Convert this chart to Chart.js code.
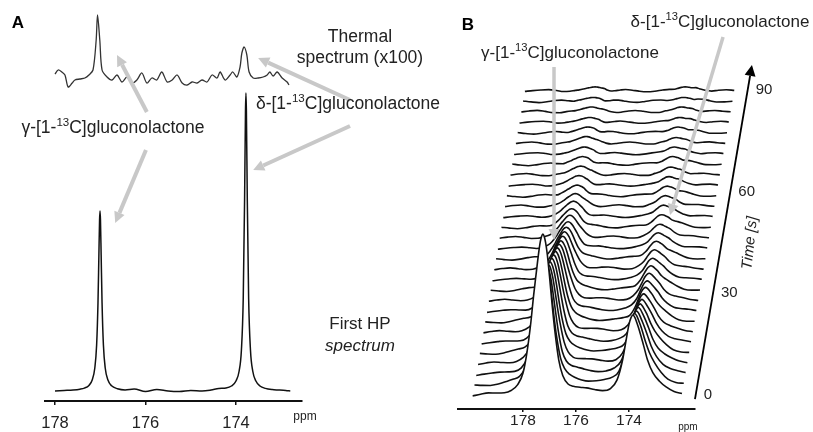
<!DOCTYPE html>
<html lang="en">
<head>
<meta charset="utf-8">
<title>Hyperpolarized gluconolactone spectra</title>
<script src="https://cdn.jsdelivr.net/npm/chart.js@4.4.1/dist/chart.umd.min.js"></script>
<style>
  body { margin: 0; background: #fff; }
  #wrap { position: relative; width: 813px; height: 432px; }
  #chartA { position: absolute; left: 0; top: 0; }
  #chartB { position: absolute; left: 440px; top: 0; }
</style>
</head>
<body>
<div id="wrap">
  <canvas id="chartA" width="440" height="432"></canvas>
  <canvas id="chartB" width="373" height="432"></canvas>
</div>
<script>
// ---- panel A: first HP spectrum and thermal spectrum (x100) ----
const hpPpm = [178.00, 177.80, 177.60, 177.45, 177.35, 177.25, 177.18, 177.12, 177.08, 177.05, 177.03, 177.015,
  177.005, 176.995, 176.98, 176.96, 176.93, 176.89, 176.83, 176.75, 176.62, 176.45, 176.25, 176.0, 175.75, 175.5,
  175.25, 175.0, 174.75, 174.55, 174.38, 174.22, 174.1, 174.0, 173.93, 173.88, 173.84, 173.81, 173.79, 173.78,
  173.77, 173.75, 173.72, 173.68, 173.63, 173.56, 173.47, 173.35, 173.2, 173.05, 172.9, 172.8];
const hpVal = [10, 10.5, 11, 11.8, 12.9, 15.6, 20.7, 33, 56, 98, 146, 181,
  190, 181, 146, 98, 56, 33, 21, 15.2, 12.3, 11.1, 12, 9.5, 11.5, 10,
  9.5, 10.5, 10, 11, 12.5, 13, 15, 20, 30, 51, 102, 201, 290, 308,
  290, 201, 102, 51, 30, 20, 15, 12.6, 11.4, 11, 10.5, 10];

const thermalPpm = [178.00, 177.93, 177.85, 177.78, 177.71, 177.62, 177.56, 177.45, 177.34, 177.25, 177.16, 177.09,
  177.06, 177.01, 176.96, 176.85, 176.74, 176.63, 176.52, 176.41, 176.30, 176.19, 176.08, 175.97, 175.86, 175.75,
  175.64, 175.52, 175.41, 175.30, 175.19, 175.08, 174.97, 174.86, 174.75, 174.64, 174.53, 174.42, 174.35, 174.24,
  174.13, 174.07, 173.98, 173.91, 173.87, 173.82, 173.76, 173.71, 173.62, 173.51, 173.40, 173.31, 173.25, 173.18,
  173.09, 172.98, 172.87, 172.83];
const thermalVal = [327, 331, 329, 326, 314, 318, 321, 322, 323, 326, 331, 361,
  386, 361, 331, 324, 321, 326, 319, 324, 318, 321, 328, 318, 323, 321,
  329, 319, 321, 326, 318, 316, 319, 318, 321, 319, 326, 323, 329, 321,
  326, 329, 324, 334, 348, 354, 346, 329, 323, 323, 324, 326, 329, 325,
  329, 323, 319, 316];

const ticksA = [178, 176, 174];

// ---- panel B: time series of HP spectra ----
const gridPpm = [179.9, 179.6, 179.3, 179.0, 178.7, 178.45, 178.2, 178.0, 177.85, 177.7, 177.6, 177.5, 177.42,
  177.35, 177.3, 177.25, 177.2, 177.15, 177.08, 177.0, 176.9, 176.8, 176.65, 176.5, 176.3, 176.1, 175.85, 175.6,
  175.3, 175.0, 174.7, 174.45, 174.25, 174.1, 174.0, 173.92, 173.85, 173.78, 173.7, 173.6, 173.45, 173.3, 173.1,
  172.85, 172.6, 172.3, 172.0];
const gammaShape = [0, 0.005, 0.01, 0.015, 0.025, 0.04, 0.07, 0.14, 0.27, 0.46, 0.62, 0.76, 0.87,
  0.95, 0.985, 1, 0.985, 0.95, 0.87, 0.74, 0.56, 0.40, 0.22, 0.13, 0.08, 0.06, 0.045, 0.035,
  0.025, 0.018, 0.012, 0.008, 0.005, 0.003, 0.002, 0, 0, 0, 0, 0, 0, 0, 0,
  0, 0, 0, 0];
const deltaShape = [0, 0, 0, 0, 0, 0, 0, 0, 0, 0, 0, 0, 0,
  0, 0, 0, 0, 0, 0, 0, 0, 0, 0, 0, 0, 0.005, 0.01, 0.015,
  0.025, 0.04, 0.08, 0.18, 0.42, 0.70, 0.88, 0.97, 1, 0.97, 0.90, 0.80, 0.62, 0.45, 0.30,
  0.18, 0.10, 0.05, 0.03];
const gammaHeights = [162, 125, 110, 100, 92, 85, 78, 71, 64, 57, 50, 44, 38, 32, 27, 23, 19, 16, 13, 11,
  10, 9, 8, 7, 7, 6, 5, 5, 4, 4];
const deltaHeights = [81, 72, 64, 57, 50, 44, 39, 35, 31, 28, 25, 22, 20, 18, 16, 14, 13, 12, 11, 10,
  9, 8, 8, 7, 6, 6, 5, 5, 4, 4];
const wiggleA = [0, 1, 1.5, 0.5, -0.8, -1, 0, 0.3, 0, 0, 0, 0, 0, 0, 0, 0, 0, 0, 0, 0,
  0.4, 0.8, 0.3, -0.5, -1, -0.4, 0.7, 1.2, 0.4, -0.8, -1, 0.2, 0, 0, 0, 0, 0, 0, 0, 0,
  0.4, -0.5, -1, 0.2, 1, 0.5, 0];
const wiggleB = [0.5, -0.5, -1.2, -0.4, 0.8, 1.2, 0.4, -0.3, 0, 0, 0, 0, 0, 0, 0, 0, 0, 0, 0, 0,
  -0.6, -1, -0.2, 0.8, 1, 0.2, -0.8, -1.1, -0.2, 0.9, 1.1, 0.2, 0, 0, 0, 0, 0, 0, 0, 0,
  -0.5, 0.6, 1, 0, -0.9, -0.6, 0];
const wiggleC = [-0.5, 0.3, 0.9, 1.2, 0.3, -0.8, -0.6, 0, 0, 0, 0, 0, 0, 0, 0, 0, 0, 0, 0, 0,
  0.2, -0.6, -1, -0.3, 0.6, 1.1, 0.5, -0.4, -1, -0.5, 0.5, 0.8, 0, 0, 0, 0, 0, 0, 0, 0,
  0.8, 0.2, -0.6, -0.9, 0.3, 1, 0.4];
const ticksB = [178, 176, 174];
const timeTicks = [0, 30, 60, 90];

// ---- styling ----
const FONT = '"Liberation Sans", Arial, Helvetica, sans-serif';
const INK = '#111';
const TEXT = '#222';
const ARROW = '#c8c8c8';
const traceStep = 10.52;   // vertical offset between successive spectra
const traceShift = 0.068;  // ppm skew between successive spectra

const gammaLabel = [['γ-[1-', false], ['13', true], ['C]gluconolactone', false]];
const deltaLabel = [['δ-[1-', false], ['13', true], ['C]gluconolactone', false]];

function richText(ctx, parts, x, y, size, align) {
  let total = 0;
  const widths = parts.map(([t, sup]) => {
    ctx.font = (sup ? size * 0.66 : size) + 'px ' + FONT;
    const w = ctx.measureText(t).width;
    total += w;
    return w;
  });
  let cx = align === 'left' ? x : x - total / 2;
  ctx.textAlign = 'left';
  ctx.textBaseline = 'middle';
  parts.forEach(([t, sup], i) => {
    ctx.font = (sup ? size * 0.66 : size) + 'px ' + FONT;
    ctx.fillText(t, cx, sup ? y - size * 0.3 : y);
    cx += widths[i];
  });
}

function text(ctx, s, x, y, font, align) {
  ctx.font = font;
  ctx.textAlign = align || 'center';
  ctx.textBaseline = 'middle';
  ctx.fillText(s, x, y);
}

function arrow(ctx, x1, y1, x2, y2, color, width) {
  const a = Math.atan2(y2 - y1, x2 - x1);
  const hl = 11, hw = 5.5;
  const bx = x2 - hl * Math.cos(a), by = y2 - hl * Math.sin(a);
  ctx.strokeStyle = color;
  ctx.lineWidth = width;
  ctx.beginPath();
  ctx.moveTo(x1, y1);
  ctx.lineTo(bx, by);
  ctx.stroke();
  ctx.fillStyle = color;
  ctx.beginPath();
  ctx.moveTo(x2, y2);
  ctx.lineTo(bx + hw * Math.sin(a), by - hw * Math.cos(a));
  ctx.lineTo(bx - hw * Math.sin(a), by + hw * Math.cos(a));
  ctx.closePath();
  ctx.fill();
}

// annotation anchors, in data units of each panel (ppm, intensity)
const arrowsA = [
  [175.97, 289, 176.63, 346],
  [175.99, 251, 176.67, 178],
  [171.48, 301, 173.51, 343],
  [171.48, 275, 173.62, 231]
];
const arrowsB = [
  [176.83, 342, 176.83, 169],
  [170.45, 372, 172.45, 194]
];

const annotateA = {
  id: 'annotateA',
  afterDatasetsDraw(chart) {
    const { ctx, scales: { x, y } } = chart;
    const px = v => x.getPixelForValue(v), py = v => y.getPixelForValue(v);
    ctx.save();
    arrowsA.forEach(a => arrow(ctx, px(a[0]), py(a[1]), px(a[2]), py(a[3]), ARROW, 4));
    ctx.fillStyle = TEXT;
    richText(ctx, gammaLabel, px(176.72), py(273), 17.5, 'center');
    richText(ctx, deltaLabel, px(171.525), py(297), 17.5, 'center');
    text(ctx, 'Thermal', px(171.26), py(364), '17.5px ' + FONT);
    text(ctx, 'spectrum (x100)', px(171.26), py(343), '17.5px ' + FONT);
    text(ctx, 'First HP', px(171.26), py(77), '17px ' + FONT);
    text(ctx, 'spectrum', px(171.26), py(55), 'italic 17px ' + FONT);
    text(ctx, 'ppm', px(172.475), py(-16), '12px ' + FONT);
    ctx.fillStyle = '#000';
    text(ctx, 'A', 18, 23, 'bold 17px ' + FONT);
    ctx.restore();
  }
};

new Chart(document.getElementById('chartA'), {
  type: 'line',
  data: {
    datasets: [
      {
        data: hpPpm.map((p, i) => ({ x: p, y: hpVal[i] })),
        borderColor: INK, borderWidth: 1.5, pointRadius: 0,
        cubicInterpolationMode: 'monotone', clip: false
      },
      {
        data: thermalPpm.map((p, i) => ({ x: p, y: thermalVal[i] })),
        borderColor: '#333', borderWidth: 1.3, pointRadius: 0,
        tension: 0.3, clip: false
      }
    ]
  },
  options: {
    responsive: false,
    animation: false,
    layout: { padding: { left: 45, right: 138, top: 0, bottom: 0 } },
    plugins: { legend: { display: false }, tooltip: { enabled: false } },
    scales: {
      x: {
        type: 'linear', reverse: true, min: 172.541, max: 178.221,
        afterBuildTicks: s => { s.ticks = ticksA.map(v => ({ value: v })); },
        afterFit: s => { s.height = 31; },
        grid: { drawOnChartArea: false, drawTicks: true, tickLength: 4, color: INK, lineWidth: 1.5 },
        border: { display: true, color: INK, width: 2 },
        ticks: { font: { family: FONT, size: 16.5 }, color: TEXT, padding: 9, maxRotation: 0, autoSkip: false }
      },
      y: { display: false, min: 0, max: 401 }
    }
  },
  plugins: [annotateA]
});

// ---- panel B ----
const wiggles = [wiggleA, wiggleB, wiggleC];
const traces = gammaHeights.map((g, k) => {
  const base = 13 + k * traceStep;
  const w = wiggles[k % 3];
  return {
    data: gridPpm.map((p, i) => ({
      x: p - k * traceShift,
      y: base + g * gammaShape[i] + deltaHeights[k] * deltaShape[i] + w[i]
    })),
    borderColor: INK, borderWidth: 1.6, pointRadius: 0,
    cubicInterpolationMode: 'monotone',
    fill: { value: base - 3 }, backgroundColor: '#fff', clip: false
  };
});

const timeAxis = { ppm0: 171.51, t0: -1.2, ppm1: 169.36, t1: 97.4 };

const annotateB = {
  id: 'annotateB',
  afterDatasetsDraw(chart) {
    const { ctx, scales: { x, y, y2 } } = chart;
    const px = v => x.getPixelForValue(v), py = v => y.getPixelForValue(v);
    ctx.save();
    // time axis
    const xa = px(timeAxis.ppm0), ya = y2.getPixelForValue(timeAxis.t0);
    const xb = px(timeAxis.ppm1), yb = y2.getPixelForValue(timeAxis.t1);
    arrow(ctx, xa, ya, xb, yb, '#000', 1.8);
    ctx.fillStyle = TEXT;
    timeTicks.forEach(t => {
      const ty = y2.getPixelForValue(t);
      const tx = xa + (xb - xa) * (ty - ya) / (yb - ya);
      text(ctx, String(t), tx + 8, ty, '15px ' + FONT, 'left');
    });
    ctx.save();
    ctx.translate(px(169.434), py(166));
    ctx.rotate(-84 * Math.PI / 180);
    text(ctx, 'Time [s]', 0, 0, 'italic 15px ' + FONT);
    ctx.restore();
    // peak labels and arrows
    arrowsB.forEach(a => arrow(ctx, px(a[0]), py(a[1]), px(a[2]), py(a[3]), ARROW, 3.5));
    ctx.fillStyle = TEXT;
    richText(ctx, gammaLabel, px(176.226), py(356), 17, 'center');
    richText(ctx, deltaLabel, px(170.566), py(387), 17, 'center');
    text(ctx, 'ppm', px(171.774), py(-18), '10px ' + FONT);
    ctx.fillStyle = '#000';
    text(ctx, 'B', 28, 25, 'bold 17px ' + FONT);
    ctx.restore();
  }
};

new Chart(document.getElementById('chartB'), {
  type: 'line',
  data: { datasets: traces },
  options: {
    responsive: false,
    animation: false,
    layout: { padding: { left: 18, right: 118, top: 0, bottom: 0 } },
    plugins: { legend: { display: false }, tooltip: { enabled: false } },
    scales: {
      x: {
        type: 'linear', reverse: true, min: 171.509, max: 180.453,
        afterBuildTicks: s => { s.ticks = ticksB.map(v => ({ value: v })); },
        afterFit: s => { s.height = 23; },
        grid: { drawOnChartArea: false, drawTicks: true, tickLength: 3, color: INK, lineWidth: 1.5 },
        border: { display: true, color: INK, width: 2 },
        ticks: { font: { family: FONT, size: 15.5 }, color: TEXT, padding: -1, maxRotation: 0, autoSkip: false }
      },
      y: { display: false, min: 0, max: 409 },
      y2: { display: false, position: 'right', min: -4.131, max: 116.55 }
    }
  },
  plugins: [annotateB]
});
</script>
</body>
</html>
